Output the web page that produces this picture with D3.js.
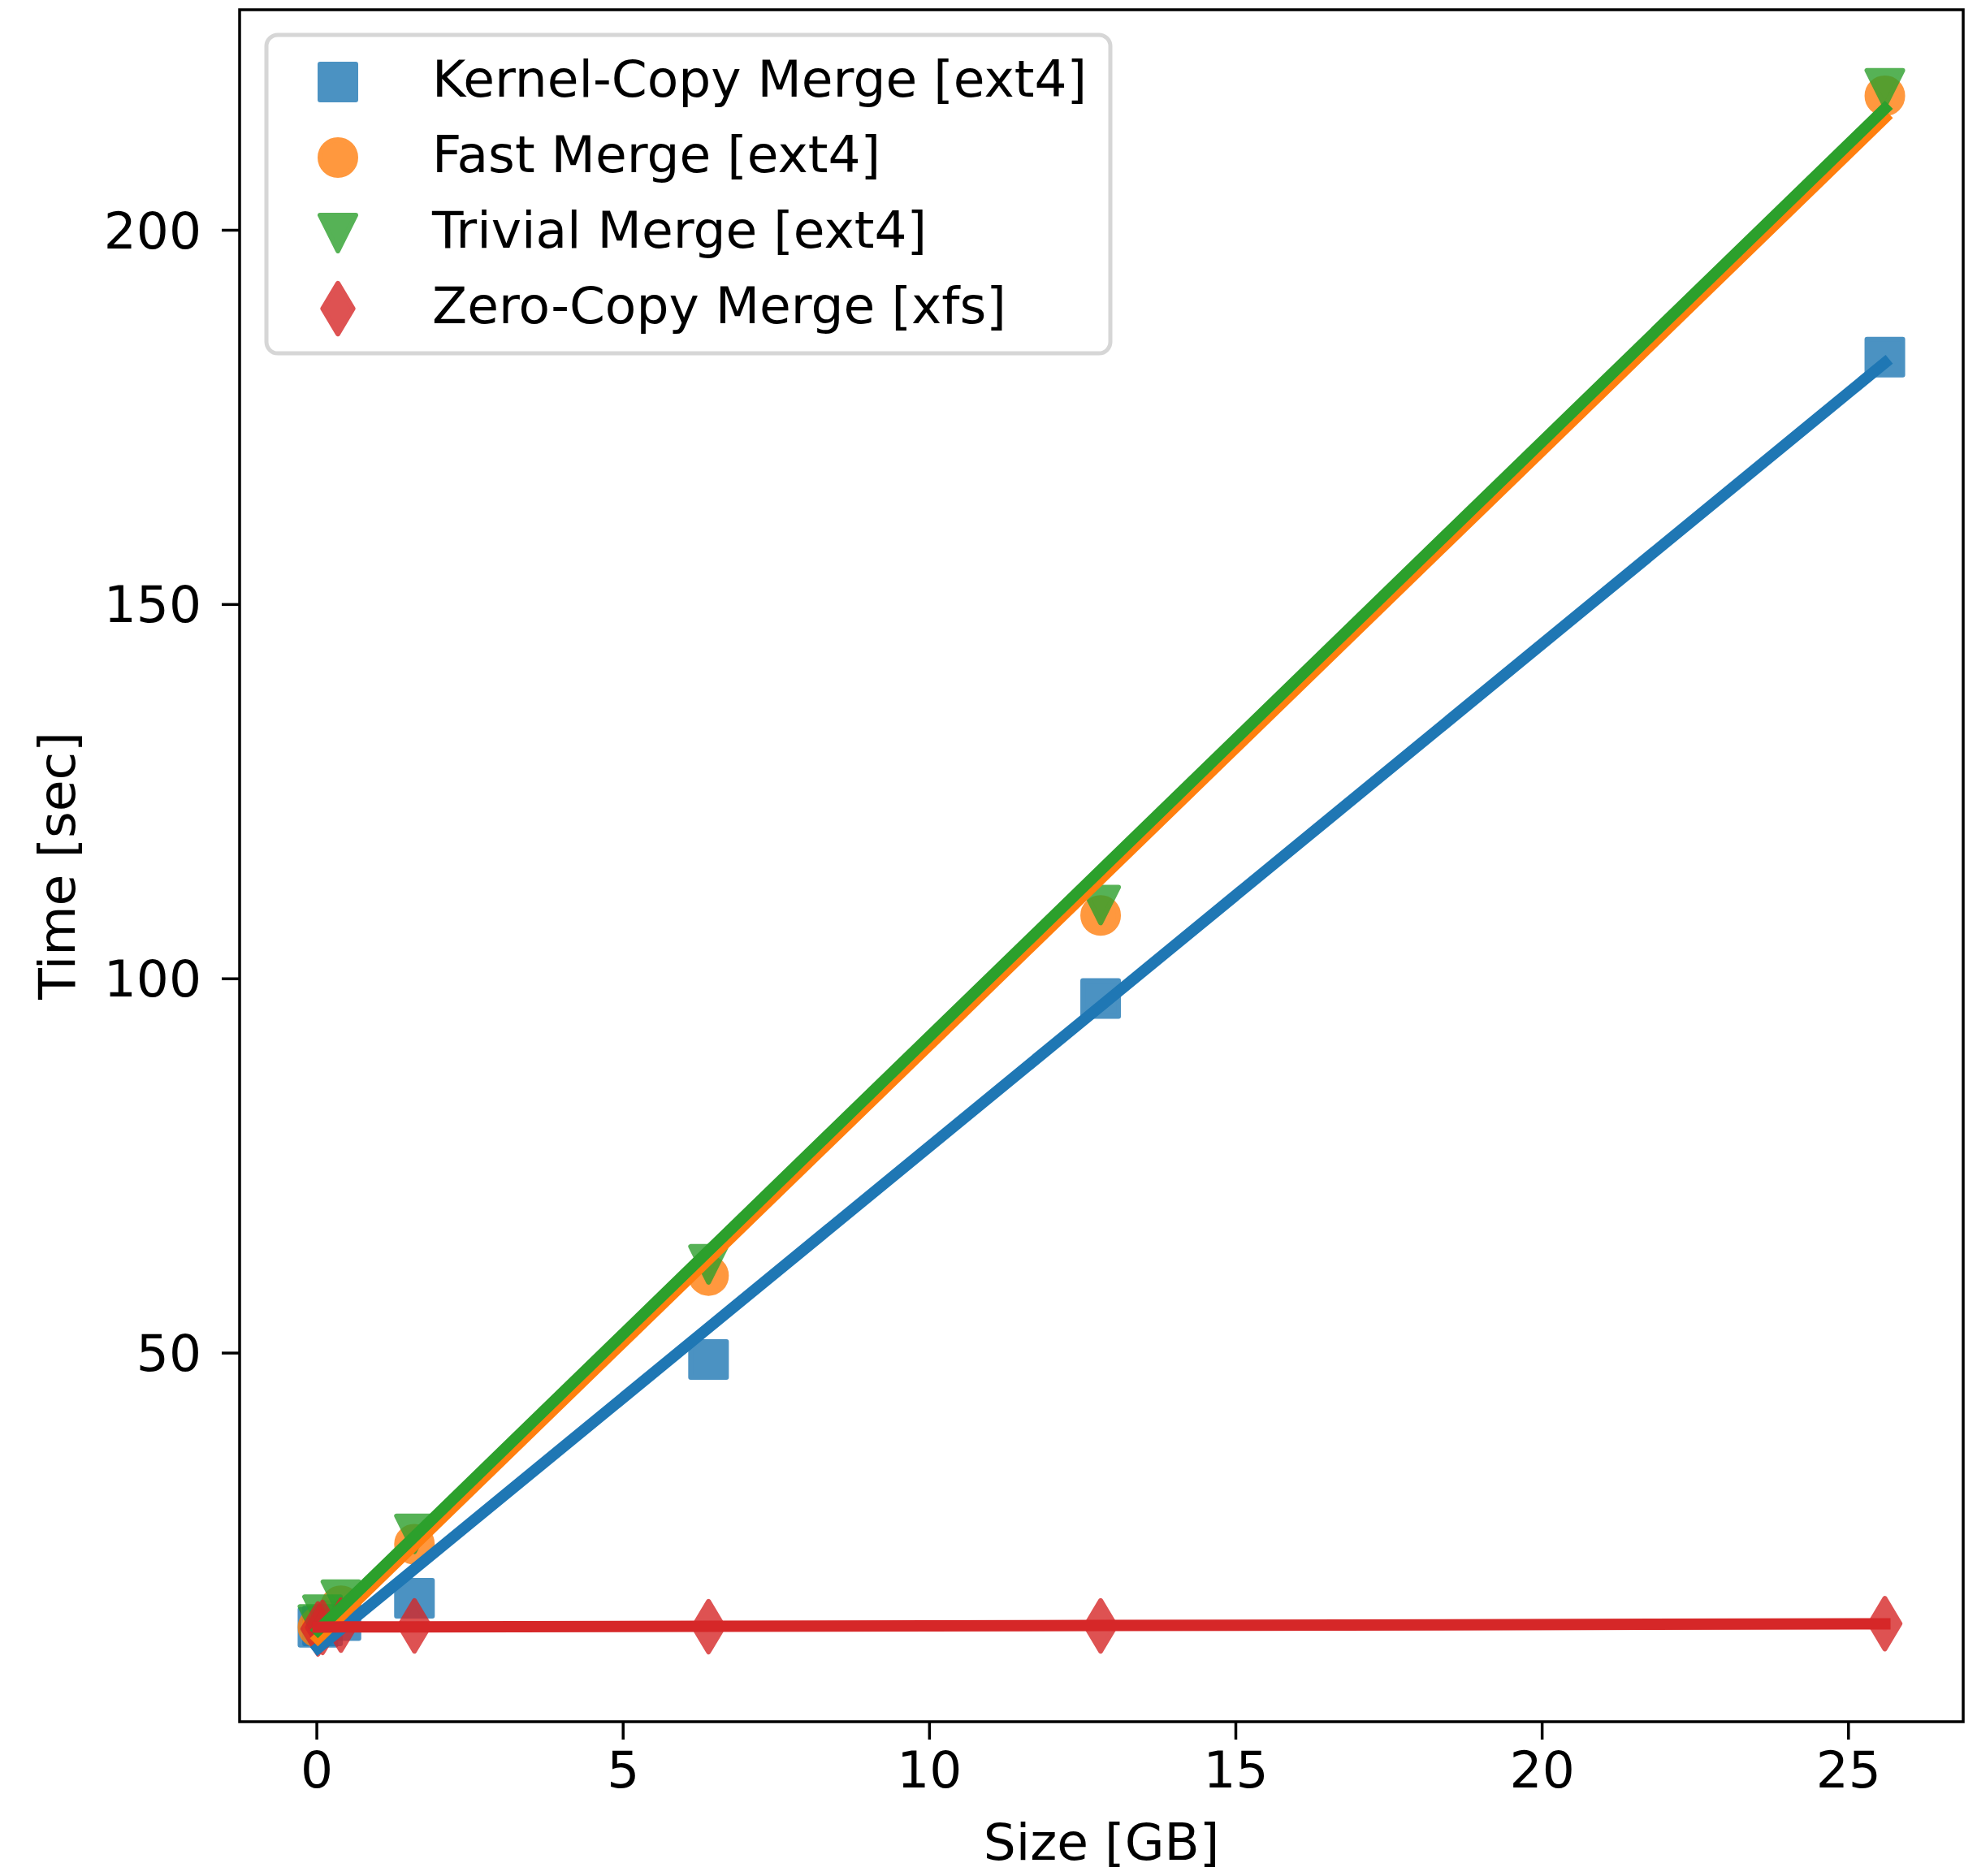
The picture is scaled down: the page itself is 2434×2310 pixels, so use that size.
<!DOCTYPE html>
<html>
<head>
<meta charset="utf-8">
<script src="https://cdn.jsdelivr.net/npm/d3@7"></script>
<style>
  html, body { margin: 0; padding: 0; background: #fff; }
  svg text { font-family: "DejaVu Sans", sans-serif; fill: #000; }
</style>
</head>
<body>
<div id="chart"></div>
<script>
// Merge time vs. size, scatter + linear fit per method

const sizesGB = [0.025, 0.1, 0.4, 1.6, 6.4, 12.8, 25.6];
const kernelCopy = [13.3, 13.5, 14.2, 17.2, 49.1, 97.3, 183.0];
const fastMerge = [13.3, 13.6, 16.2, 24.4, 60.3, 108.4, 217.9];
const trivialMerge = [13.7, 15.0, 17.0, 25.8, 61.8, 109.8, 218.9];
const zeroCopy = [13.1, 13.3, 13.6, 13.5, 13.4, 13.5, 13.8];

const seriesNames = ["Kernel-Copy Merge [ext4]", "Fast Merge [ext4]", "Trivial Merge [ext4]", "Zero-Copy Merge [xfs]"];
const xTicks = [0, 5, 10, 15, 20, 25];
const yTicks = [50, 100, 150, 200];
const yLimits = [0.7, 229.4];

const W = 2434, H = 2310;
const plot = { left: 295, top: 12, right: 2417, bottom: 2120 };
const FONT = 63;

const colors = ["#1f77b4", "#ff7f0e", "#2ca02c", "#d62728"];
const shapes = ["square", "circle", "triangleDown", "thinDiamond"];
const allSeries = [kernelCopy, fastMerge, trivialMerge, zeroCopy];

function linFit(xs, ys) {
    const mx = d3.mean(xs), my = d3.mean(ys);
    const sxy = d3.sum(xs, (x, i) => (x - mx) * (ys[i] - my));
    const sxx = d3.sum(xs, x => (x - mx) * (x - mx));
    const b = sxy / sxx;
    return { slope: b, intercept: my - b * mx };
}

function markerPath(shape, s) {
    const h = s / 2;
    if (shape === "square") return `M${-h},${-h}H${h}V${h}H${-h}Z`;
    if (shape === "circle") return `M${h},0A${h},${h} 0 1,1 ${-h},0A${h},${h} 0 1,1 ${h},0Z`;
    if (shape === "triangleDown") return `M0,${h}L${-h},${-h}L${h},${-h}Z`;
    const d = s * Math.SQRT1_2;
    return `M0,${-d}L${0.6 * d},0L0,${d}L${-0.6 * d},0Z`;
}

const fits = allSeries.map(ys => linFit(sizesGB, ys));
const fitLines = fits.map(f => sizesGB.map(x => ({ x, y: f.intercept + f.slope * x })));

// x gets matplotlib-like 5% margins
const xExt = d3.extent(sizesGB);
const xPad = (xExt[1] - xExt[0]) * 0.05;

const x = d3.scaleLinear().domain([xExt[0] - xPad, xExt[1] + xPad]).range([plot.left, plot.right]);
const y = d3.scaleLinear().domain(yLimits).range([plot.bottom, plot.top]);

const svg = d3.select("#chart").append("svg").attr("width", W).attr("height", H);
svg.append("rect").attr("width", W).attr("height", H).attr("fill", "#fff");

// scatter markers (under the lines, like matplotlib zorder)
const MS = 44, MSW = 6;
allSeries.forEach((ys, si) => {
    svg.append("g").selectAll("path").data(ys).enter().append("path")
        .attr("transform", (d, i) => `translate(${x(sizesGB[i])},${y(d)})`)
        .attr("d", markerPath(shapes[si], MS))
        .attr("fill", colors[si]).attr("stroke", colors[si]).attr("stroke-width", MSW)
        .attr("stroke-linejoin", "round").attr("opacity", 0.8);
});

// fit lines
const line = d3.line().x(d => x(d.x)).y(d => y(d.y));
fitLines.forEach((pts, si) => {
    svg.append("path").attr("d", line(pts))
        .attr("fill", "none").attr("stroke", colors[si]).attr("stroke-width", 14)
        .attr("stroke-linecap", "square").attr("stroke-linejoin", "round");
});

// axes
const xAxis = svg.append("g").attr("transform", `translate(0,${plot.bottom})`)
    .call(d3.axisBottom(x).tickValues(xTicks).tickFormat(d3.format("d")).tickSizeInner(22).tickSizeOuter(0).tickPadding(14));
const yAxis = svg.append("g").attr("transform", `translate(${plot.left},0)`)
    .call(d3.axisLeft(y).tickValues(yTicks).tickFormat(d3.format("d")).tickSizeInner(22).tickSizeOuter(0).tickPadding(25));
[xAxis, yAxis].forEach(g => {
    g.select(".domain").remove();
    g.selectAll(".tick line").attr("stroke", "#000").attr("stroke-width", 3.5);
    g.selectAll(".tick text").attr("font-size", FONT).attr("font-family", "DejaVu Sans").attr("fill", "#000");
});
yAxis.selectAll(".tick text").attr("dy", "0.35em");

svg.append("rect")
    .attr("x", plot.left).attr("y", plot.top)
    .attr("width", plot.right - plot.left).attr("height", plot.bottom - plot.top)
    .attr("fill", "none").attr("stroke", "#000").attr("stroke-width", 3.5);

svg.append("text").attr("x", (plot.left + plot.right) / 2).attr("y", 2290)
    .attr("text-anchor", "middle").attr("font-size", FONT).text("Size [GB]");
svg.append("text").attr("transform", `translate(92,${(plot.top + plot.bottom) / 2}) rotate(-90)`)
    .attr("text-anchor", "middle").attr("font-size", FONT).text("Time [sec]");

// legend
const lg = svg.append("g");
lg.append("rect").attr("x", 328).attr("y", 43).attr("width", 1039).attr("height", 392)
    .attr("rx", 14).attr("ry", 14)
    .attr("fill", "#fff").attr("fill-opacity", 0.8)
    .attr("stroke", "#d6d6d6").attr("stroke-width", 5);
const rowY = [101, 194, 287, 380];
seriesNames.forEach((name, i) => {
    lg.append("path").attr("transform", `translate(416,${rowY[i]})`)
        .attr("d", markerPath(shapes[i], MS))
        .attr("fill", colors[i]).attr("stroke", colors[i]).attr("stroke-width", MSW)
        .attr("stroke-linejoin", "round").attr("opacity", 0.8);
    lg.append("text").attr("x", 532).attr("y", rowY[i] + 18)
        .attr("font-size", FONT).text(name);
});
</script>
</body>
</html>
